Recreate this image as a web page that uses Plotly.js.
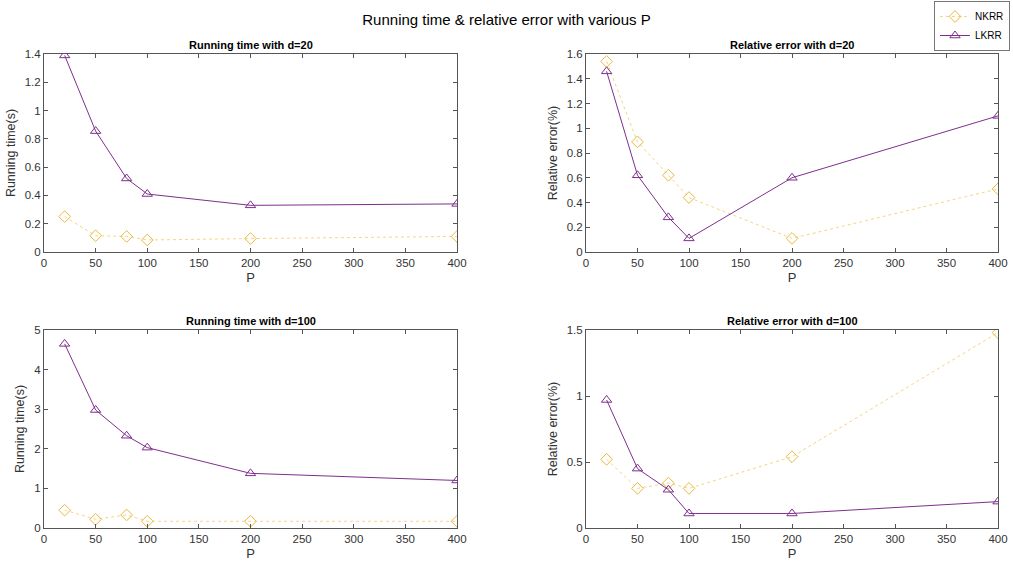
<!DOCTYPE html>
<html>
<head>
<meta charset="utf-8">
<script src="https://cdn.plot.ly/plotly-3.0.1.min.js"></script>
<style>
  html, body { margin: 0; padding: 0; background: #fff; }
  #chart { width: 1013px; height: 563px; }
</style>
</head>
<body>
<div id="chart"></div>
<script>
// Sample sizes P
const P = [20, 50, 80, 100, 200, 400];

// Running time (s), d=20
const timeD20_NKRR = [0.25, 0.115, 0.11, 0.085, 0.095, 0.11];
const timeD20_LKRR = [1.39, 0.855, 0.52, 0.41, 0.33, 0.34];

// Relative error (%), d=20
const errD20_NKRR = [1.54, 0.89, 0.62, 0.44, 0.11, 0.51];
const errD20_LKRR = [1.46, 0.62, 0.28, 0.11, 0.60, 1.10];

// Running time (s), d=100
const timeD100_NKRR = [0.45, 0.22, 0.33, 0.17, 0.17, 0.17];
const timeD100_LKRR = [4.65, 2.98, 2.33, 2.03, 1.38, 1.20];

// Relative error (%), d=100
const errD100_NKRR = [0.52, 0.30, 0.34, 0.30, 0.54, 1.48];
const errD100_LKRR = [0.97, 0.45, 0.29, 0.11, 0.11, 0.20];

const xTicks = [0, 50, 100, 150, 200, 250, 300, 350, 400];

const NK_LINE = 'rgba(237,177,32,0.55)';
const NK_MARK = '#EAB83E';
const LK_COLOR = '#7E2F8E';
const AX_COLOR = '#555555';
const TXT = '#333333';
const FONT = 'Liberation Sans, Arial, Helvetica, sans-serif';

function nk(y, xa, ya, show) {
  return {
    x: P, y: y, xaxis: xa, yaxis: ya, name: 'NKRR', type: 'scatter',
    mode: 'lines+markers', showlegend: show, legendgroup: 'nk',
    line: { color: NK_LINE, width: 1, dash: 'dot' },
    marker: { symbol: 'diamond-open', size: 9, color: NK_MARK, line: { width: 1 } }
  };
}
function lk(y, xa, ya, show) {
  return {
    x: P, y: y, xaxis: xa, yaxis: ya, name: 'LKRR', type: 'scatter',
    mode: 'lines+markers', showlegend: show, legendgroup: 'lk',
    line: { color: LK_COLOR, width: 1 },
    marker: { symbol: 'triangle-up-open', size: 9, color: LK_COLOR, line: { width: 1 } }
  };
}

const data = [
  nk(timeD20_NKRR, 'x', 'y', true),   lk(timeD20_LKRR, 'x', 'y', true),
  nk(errD20_NKRR, 'x2', 'y2', false), lk(errD20_LKRR, 'x2', 'y2', false),
  nk(timeD100_NKRR, 'x3', 'y3', false), lk(timeD100_LKRR, 'x3', 'y3', false),
  nk(errD100_NKRR, 'x4', 'y4', false), lk(errD100_LKRR, 'x4', 'y4', false)
];

const W = 1013, H = 563;
const colL = [44 / W, 457 / W];
const colR = [586 / W, 998 / W];
const rowT = [(H - 252) / H, (H - 54) / H];
const rowB = [(H - 528) / H, (H - 330) / H];

function xax(domain, anchor, titleText) {
  return {
    domain: domain, anchor: anchor, range: [0, 400], tickvals: xTicks,
    ticks: 'inside', ticklen: 4, tickcolor: AX_COLOR, mirror: 'ticks',
    showline: true, linecolor: AX_COLOR, linewidth: 1, showgrid: false, zeroline: false,
    tickfont: { family: FONT, size: 11.5, color: TXT },
    title: { text: titleText, font: { family: FONT, size: 13, color: TXT }, standoff: 5 }
  };
}
function yax(domain, anchor, range, dtick, titleText) {
  return {
    domain: domain, anchor: anchor, range: range, dtick: dtick, tick0: 0,
    ticks: 'inside', ticklen: 4, tickcolor: AX_COLOR, mirror: 'ticks',
    showline: true, linecolor: AX_COLOR, linewidth: 1, showgrid: false, zeroline: false,
    tickfont: { family: FONT, size: 11.5, color: TXT },
    title: { text: titleText, font: { family: FONT, size: 12.5, color: TXT }, standoff: 6 }
  };
}

function subTitle(text, domain, yTop) {
  return {
    text: '<b>' + text + '</b>', xref: 'paper', yref: 'paper',
    x: (domain[0] + domain[1]) / 2, y: yTop, xanchor: 'center', yanchor: 'bottom',
    showarrow: false, font: { family: FONT, size: 11, color: '#000' }
  };
}

const layout = {
  width: W, height: H,
  margin: { l: 0, r: 0, t: 0, b: 0 },
  paper_bgcolor: '#fff', plot_bgcolor: '#fff',
  title: {
    text: 'Running time & relative error with various P',
    font: { family: FONT, size: 15, color: '#000' },
    x: 0.5, xanchor: 'center', y: 1 - 20 / H, yanchor: 'middle'
  },
  xaxis: xax(colL, 'y', 'P'),
  yaxis: yax(rowT, 'x', [0, 1.4], 0.2, 'Running time(s)'),
  xaxis2: xax(colR, 'y2', 'P'),
  yaxis2: yax(rowT, 'x2', [0, 1.6], 0.2, 'Relative error(%)'),
  xaxis3: xax(colL, 'y3', 'P'),
  yaxis3: yax(rowB, 'x3', [0, 5], 1, 'Running time(s)'),
  xaxis4: xax(colR, 'y4', 'P'),
  yaxis4: yax(rowB, 'x4', [0, 1.5], 0.5, 'Relative error(%)'),
  annotations: [
    subTitle('Running time with d=20', colL, rowT[1] + 0.002),
    subTitle('Relative error with d=20', colR, rowT[1] + 0.002),
    subTitle('Running time with d=100', colL, rowB[1] + 0.002),
    subTitle('Relative error with d=100', colR, rowB[1] + 0.002)
  ],
  showlegend: true,
  legend: {
    x: 1010 / W, xanchor: 'right', y: 1 - 1 / H, yanchor: 'top',
    bordercolor: '#777', borderwidth: 1, bgcolor: '#fff',
    font: { family: FONT, size: 10, color: '#000' },
    tracegroupgap: 0, itemwidth: 30
  }
};

Plotly.newPlot('chart', data, layout, { displayModeBar: false, staticPlot: true });
</script>
</body>
</html>
